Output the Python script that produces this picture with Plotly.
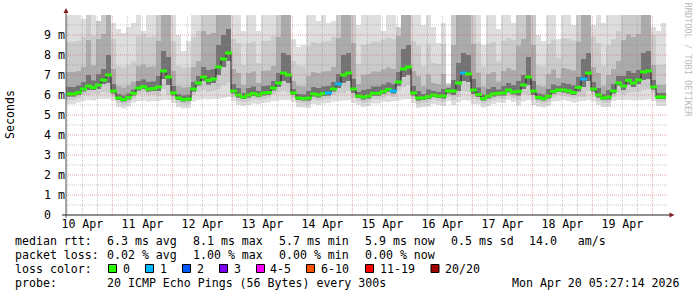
import pandas as pd
import plotly.graph_objects as go

# ---------------- data (ms), 2-hour buckets from the graph start ----------------
T_START = "2026-04-10 05:27:14"
T_END = "2026-04-20 05:27:14"

median_ms = [6.05,6.05,6.12,6.3,6.45,6.37,6.5,6.75,7.0,6.2,
             5.85,5.77,5.88,6.08,6.35,6.42,6.3,6.32,6.4,7.2,
             6.9,6.1,5.85,5.77,5.8,6.3,6.6,6.9,6.73,6.8,
             7.4,7.8,8.1,6.2,6.0,5.9,6.0,6.07,6.0,6.1,
             6.12,6.35,6.6,7.1,7.0,6.1,5.85,5.82,5.85,6.05,
             6.0,6.07,6.1,6.3,6.55,7.0,7.1,6.3,5.95,5.9,
             5.95,6.08,6.08,6.18,6.28,6.2,6.65,7.3,7.4,6.1,
             5.85,5.85,5.92,6.0,5.95,5.95,6.2,6.2,6.6,7.1,
             7.05,6.25,6.02,5.82,5.95,6.05,6.08,6.1,6.25,6.15,
             6.18,6.5,6.9,6.2,5.88,5.82,5.95,6.18,6.25,6.25,
             6.2,6.12,6.38,6.8,7.1,6.3,6.0,5.85,5.9,6.2,
             6.6,6.45,6.73,6.6,6.75,7.15,7.2,6.4,5.9,5.9]

smoke_max = [10,10,10,9.8,10,10,9.7,10,10,9.6,
             9.3,9.1,9.4,9.6,10,9.2,10,10,10,10,
             10,10,9.0,8.2,8.7,10,10,10,10,10,
             10,10,10,10,10,9.2,10,10,9.2,10,
             10,10,10,10,10,8.8,8.4,8.5,10,10,
             9.7,10,9.6,9.7,10,10,10,10,9.5,10,
             10,10,10,9.2,10,10,9.4,10,10,10,
             10,9.5,10,9.4,8.6,9.6,6.6,10,10,10,
             10,10,10,8.5,10,10,9.3,10,10,9.6,
             10,10,10,10,9.0,8.7,10,10,8.8,10,
             10,9.5,10,10,10,9.5,10,9.6,10,10,
             10,10,10,10,10,10,10,9.4,9.2,9.6]

smoke_p90 = [8.65,8.65,8.7,8.9,10,8.97,9.7,10,10,8.8,
             7.45,7.37,7.48,7.68,8.95,9.02,8.9,8.92,10,10,
             10,8.7,7.45,7.37,7.4,8.9,9.2,10,10,10,
             10,10,10,8.8,8.6,7.5,8.6,8.67,7.6,8.7,
             8.72,8.95,10,10,10,7.7,7.45,7.42,8.45,8.65,
             8.6,8.67,8.7,8.9,10,10,10,10,7.55,8.5,
             8.55,8.68,8.68,8.78,8.88,8.8,9.4,10,10,8.7,
             8.45,7.45,8.52,7.6,7.55,8.55,6.55,10,10,10,
             10,10,8.62,7.42,8.55,8.65,7.68,8.7,8.85,8.75,
             10,10,10,10,7.48,7.42,8.55,8.78,7.85,8.85,
             8.8,8.72,10,10,10,8.9,8.6,7.45,8.5,8.8,
             9.2,10,10,10,10,10,10,9.0,7.5,7.5]

smoke_p75 = [7.15,7.15,7.2,7.4,8.75,7.47,8.8,9.05,10,7.3,
             6.45,6.37,6.48,6.68,7.45,7.52,7.4,7.42,8.7,10,
             10,7.2,6.45,6.37,6.4,7.4,7.7,9.2,9.03,9.1,
             10,10,10,7.3,7.1,6.5,7.1,7.17,6.6,7.2,
             7.22,7.45,8.9,10,10,6.7,6.45,6.42,6.95,7.15,
             7.1,7.17,7.2,7.4,8.85,10,10,8.6,6.55,7.0,
             7.05,7.18,7.18,7.28,7.38,7.3,8.95,10,10,7.2,
             6.95,6.45,7.02,6.6,6.55,7.05,6.45,8.5,10,10,
             10,8.55,7.12,6.42,7.05,7.15,6.68,7.2,7.35,7.25,
             8.48,8.8,10,8.5,6.48,6.42,7.05,7.28,6.85,7.35,
             7.3,7.22,8.68,10,10,7.4,7.1,6.45,7.0,7.3,
             7.7,8.75,9.03,8.9,9.05,10,10,7.5,6.5,6.5]

smoke_p60 = [6.4,6.4,6.47,6.65,7.0,6.72,7.05,7.3,8.0,6.55,
             6.05,5.97,6.08,6.28,6.7,6.77,6.65,6.67,6.95,8.2,
             7.9,6.45,6.05,5.97,6.0,6.65,6.95,7.4,7.25,7.3,
             8.5,9.0,9.3,6.55,6.35,6.1,6.35,6.42,6.2,6.45,
             6.47,6.7,7.1,8.1,8.0,6.3,6.05,6.02,6.2,6.4,
             6.35,6.42,6.45,6.65,7.05,8.0,8.1,6.8,6.15,6.25,
             6.3,6.43,6.43,6.53,6.63,6.55,7.15,8.3,8.5,6.45,
             6.2,6.05,6.27,6.2,6.15,6.3,6.35,6.75,7.6,8.1,
             8.0,6.8,6.37,6.02,6.3,6.4,6.28,6.45,6.6,6.5,
             6.7,7.0,7.9,6.7,6.08,6.02,6.3,6.53,6.45,6.6,
             6.55,6.47,6.9,7.8,8.1,6.65,6.35,6.05,6.25,6.55,
             6.95,6.95,7.2,7.1,7.25,8.1,8.2,6.75,6.1,6.1]

smoke_p40 = [5.93,5.93,6.0,6.18,6.25,6.25,6.3,6.55,6.6,6.08,
             5.75,5.67,5.78,5.98,6.23,6.3,6.18,6.2,6.2,6.8,
             6.5,5.98,5.75,5.67,5.7,6.18,6.48,6.7,6.53,6.6,
             7.0,7.4,7.7,6.08,5.88,5.8,5.88,5.95,5.9,5.98,
             6.0,6.23,6.4,6.7,6.6,6.0,5.75,5.72,5.73,5.93,
             5.88,5.95,5.98,6.18,6.35,6.6,6.7,6.1,5.85,5.78,
             5.83,5.96,5.96,6.06,6.16,6.08,6.45,6.9,7.0,5.98,
             5.73,5.75,5.8,5.9,5.85,5.83,6.08,6.0,6.2,6.7,
             6.65,6.05,5.9,5.72,5.83,5.93,5.98,5.98,6.13,6.03,
             5.98,6.3,6.5,6.0,5.78,5.72,5.83,6.06,6.15,6.13,
             6.08,6.0,6.18,6.4,6.7,6.18,5.88,5.75,5.78,6.08,
             6.48,6.25,6.53,6.4,6.55,6.75,6.8,6.28,5.8,5.8]

smoke_p10 = [5.75,5.75,5.82,6.0,6.0,6.07,6.05,6.15,6.1,5.9,
             5.6,5.52,5.63,5.83,6.05,6.12,6.0,6.02,5.95,6.3,
             6.0,5.8,5.6,5.52,5.55,6.0,6.15,6.25,6.15,6.2,
             6.3,6.5,6.6,5.9,5.7,5.65,5.7,5.77,5.75,5.8,
             5.82,6.05,6.15,6.2,6.1,5.85,5.6,5.57,5.55,5.75,
             5.7,5.77,5.8,6.0,6.1,6.1,6.2,5.85,5.7,5.6,
             5.65,5.78,5.78,5.88,5.98,5.9,6.2,6.4,6.5,5.8,
             5.55,5.6,5.62,5.75,5.7,5.65,5.9,5.75,5.9,6.2,
             6.15,5.8,5.72,5.57,5.65,5.75,5.83,5.8,5.95,5.85,
             5.73,6.05,6.0,5.75,5.63,5.57,5.65,5.88,6.0,5.95,
             5.9,5.82,5.93,5.9,6.2,6.0,5.7,5.6,5.6,5.9,
             6.1,6.0,6.1,6.15,6.15,6.25,6.3,6.1,5.65,5.65]

smoke_min = [5.55,5.55,5.62,5.7,5.75,5.72,5.8,5.8,5.8,5.7,
             5.4,5.32,5.43,5.63,5.7,5.72,5.68,5.7,5.7,5.75,
             5.75,5.6,5.4,5.32,5.35,5.68,5.75,5.8,5.78,5.8,
             5.8,5.85,5.9,5.7,5.5,5.45,5.5,5.57,5.55,5.6,
             5.62,5.7,5.72,5.75,5.75,5.65,5.4,5.37,5.35,5.55,
             5.5,5.57,5.6,5.68,5.7,5.72,5.75,5.6,5.5,5.4,
             5.45,5.58,5.58,5.68,5.65,5.7,5.72,5.78,5.8,5.6,
             5.35,5.4,5.42,5.55,5.5,5.45,5.7,5.5,5.65,5.75,
             5.72,5.55,5.52,5.37,5.45,5.55,5.63,5.6,5.75,5.65,
             5.48,5.68,5.75,5.5,5.43,5.37,5.45,5.68,5.7,5.75,
             5.7,5.62,5.68,5.7,5.75,5.68,5.5,5.4,5.4,5.7,
             5.75,5.75,5.75,5.72,5.75,5.75,5.78,5.7,5.45,5.45]

lost_pings = [0,0,0,0,0,0,0,0,0,0, 0,0,0,0,0,0,0,0,0,0,
              0,0,0,0,0,0,0,0,0,0, 0,0,0,0,0,0,0,0,0,0,
              0,0,0,0,0,0,0,0,0,0, 0,0,1,0,1,0,0,0,0,0,
              0,0,0,0,0,1,0,0,0,0, 0,0,0,0,0,0,0,0,0,1,
              0,0,0,0,0,0,0,0,0,0, 0,0,0,0,0,0,0,0,0,0,
              0,0,0,1,0,0,0,0,0,0, 0,0,0,0,0,0,0,0,0,0]

day_labels = ["10 Apr", "11 Apr", "12 Apr", "13 Apr", "14 Apr",
              "15 Apr", "16 Apr", "17 Apr", "18 Apr", "19 Apr"]
y_ticks = [0, 1, 2, 3, 4, 5, 6, 7, 8, 9]
y_ticktext = ["0\u00a0\u00a0", "1 m", "2 m", "3 m", "4 m", "5 m", "6 m", "7 m", "8 m", "9 m"]

loss_names = ["0", "1", "2", "3", "4-5", "6-10", "11-19", "20/20"]
loss_colors = ["#26ff00", "#00b8ff", "#0059ff", "#7e00ff", "#ff00ff", "#ff5500", "#ff0000", "#a10000"]

stats_rows = [
    ["median rtt:", "6.3 ms avg", "8.1 ms max", "5.7 ms min", "5.9 ms now", "0.5 ms sd", "14.0   am/s"],
    ["packet loss:", "0.02 % avg", "1.00 % max", "0.00 % min", "0.00 % now"],
]
probe_text = "20 ICMP Echo Pings (56 Bytes) every 300s"
stamp_text = "Mon Apr 20 05:27:14 2026"
watermark = "RRDTOOL / TOBI OETIKER"

# ---------------- layout geometry (pixels) ----------------
W, H = 697, 297
L, R, T, B = 66, 31, 15, 82
PW, PH = W - L - R, H - T - B
MONO = "DejaVu Sans Mono"
FS = 11.6


def px(x):
    return (x - L) / PW


def py(y):
    return (H - B - y) / PH


times = pd.date_range(T_START, periods=len(median_ms), freq="2h")
edges = list(times) + [pd.Timestamp(T_END)]
centers = [t + pd.Timedelta(hours=1) for t in times]


def closed(v):
    return list(v) + [v[-1]]


fig = go.Figure()

bands = [
    (smoke_min, smoke_max, "#dedede"),
    (smoke_p10, smoke_p90, "#cbcbcb"),
    (smoke_p40, smoke_p75, "#ababab"),
    (smoke_p40, smoke_p60, "#737373"),
]
for lo, hi, col in bands:
    fig.add_trace(go.Scatter(x=edges, y=closed(lo), mode="lines", line=dict(width=0, shape="hv"),
                             hoverinfo="skip", showlegend=False))
    fig.add_trace(go.Scatter(x=edges, y=closed(hi), mode="lines", line=dict(width=0, shape="hv"),
                             fill="tonexty", fillcolor=col, hoverinfo="skip", showlegend=False))

# thin median line
fig.add_trace(go.Scatter(x=edges, y=closed(median_ms), mode="lines",
                         line=dict(color="#202020", width=1, shape="hv"),
                         hoverinfo="skip", showlegend=False))
# loss-coloured median dashes
fig.add_trace(go.Scatter(x=centers, y=median_ms, mode="markers",
                         marker=dict(symbol="line-ew", size=5,
                                     line=dict(width=3, color=[loss_colors[n] for n in lost_pings])),
                         hoverinfo="skip", showlegend=False))

# ---------------- grid (drawn above the smoke like rrdtool) ----------------
shapes = []
minor_col = "rgba(143,143,143,0.5)"
major_col = "rgba(222,79,79,0.5)"
for k in range(10):
    shapes.append(dict(type="line", xref="paper", yref="y", x0=0, x1=1.003, y0=k + 0.5, y1=k + 0.5,
                       line=dict(color=minor_col, width=1, dash="1px,1px"), layer="above"))
for k in range(1, 10):
    shapes.append(dict(type="line", xref="paper", yref="y", x0=0, x1=1.003, y0=k, y1=k,
                       line=dict(color=major_col, width=1, dash="1px,1px"), layer="above"))
grid_times = pd.date_range("2026-04-10 06:00", "2026-04-20 00:00", freq="6h")
for t in grid_times:
    col = major_col if t.hour == 0 else minor_col
    shapes.append(dict(type="line", xref="x", yref="paper", x0=t, x1=t, y0=0, y1=1,
                       line=dict(color=col, width=1, dash="1px,1px"), layer="above"))

# axes and arrows
shapes.append(dict(type="line", xref="paper", yref="paper", x0=px(66), x1=px(66), y0=py(218), y1=py(12),
                   line=dict(color="#555555", width=1), layer="above"))
shapes.append(dict(type="line", xref="paper", yref="paper", x0=px(62), x1=px(670), y0=0, y1=0,
                   line=dict(color="#1f1f1f", width=1), layer="above"))
shapes.append(dict(type="path", xref="paper", yref="paper",
                   path=f"M {px(63.5)} {py(13)} L {px(68.5)} {py(13)} L {px(66)} {py(8)} Z",
                   fillcolor="#801f1f", line=dict(width=0), layer="above"))
shapes.append(dict(type="path", xref="paper", yref="paper",
                   path=f"M {px(669.5)} {py(212.5)} L {px(669.5)} {py(217.5)} L {px(674.5)} {py(215)} Z",
                   fillcolor="#801f1f", line=dict(width=0), layer="above"))

# loss colour swatches
swatch_x = [108.5, 145.5, 182.5, 219.5, 256.5, 306.5, 365.5, 431.0]
label_x = [122.6, 160.0, 196.6, 233.6, 270.0, 321.0, 380.0, 445.0]
for sx, col in zip(swatch_x, loss_colors):
    shapes.append(dict(type="rect", xref="paper", yref="paper", x0=px(sx), x1=px(sx + 8),
                       y0=py(272.5), y1=py(264.5), fillcolor=col,
                       line=dict(color="#000000", width=1), layer="above"))

# ---------------- text ----------------
ann = []


def text(x, y, s, size=FS, color="#000000", xanchor="left", angle=0):
    ann.append(dict(x=px(x), y=py(y), xref="paper", yref="paper", text=s, showarrow=False,
                    xanchor=xanchor, yanchor="middle", textangle=angle, borderpad=0, borderwidth=0,
                    font=dict(family=MONO, size=size, color=color)))


row_y = [241, 255, 269, 283]
col_x = [15.3, 106.6, 192.6, 279.3, 365.0, 451.0, 529.3]
for r, row in enumerate(stats_rows):
    for c, s in enumerate(row):
        text(col_x[c], row_y[r], s.replace(" ", "\u00a0"))
text(15.3, row_y[2], "loss\u00a0color:")
for lx, name in zip(label_x, loss_names):
    text(lx, row_y[2], name)
text(15.3, row_y[3], "probe:")
text(106.6, row_y[3], probe_text.replace(" ", "\u00a0"))
text(512.0, row_y[3], stamp_text.replace(" ", "\u00a0"))
text(10, 115, "Seconds", angle=-90, xanchor="center")
text(687.5, 60, watermark.replace(" ", "\u00a0"), size=8.6, color="#bdbdbd", xanchor="center", angle=90)

fig.update_layout(
    width=W, height=H,
    margin=dict(l=L, r=R, t=T, b=B, pad=0),
    paper_bgcolor="#ffffff", plot_bgcolor="#ffffff",
    showlegend=False, hovermode=False,
    shapes=shapes, annotations=ann,
    font=dict(family=MONO, size=FS, color="#000000"),
    xaxis=dict(range=[T_START, T_END], showgrid=False, zeroline=False, showline=False,
               tickmode="array",
               tickvals=[pd.Timestamp("2026-04-10 12:00") + pd.Timedelta(days=d) for d in range(len(day_labels))],
               ticktext=day_labels, ticks="", tickfont=dict(family=MONO, size=FS)),
    yaxis=dict(range=[0, 10], showgrid=False, zeroline=False, showline=False,
               tickmode="array", tickvals=y_ticks, ticktext=y_ticktext, ticks="",
               tickfont=dict(family=MONO, size=FS)),
)

fig.write_html("out.html")
